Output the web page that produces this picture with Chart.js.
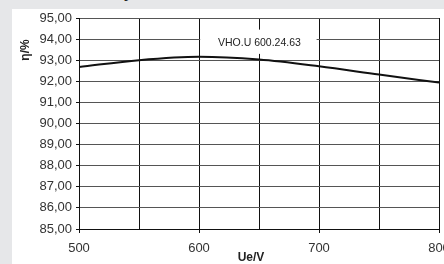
<!DOCTYPE html>
<html>
<head>
<meta charset="utf-8">
<script src="https://cdn.jsdelivr.net/npm/chart.js@4"></script>
<style>
  html, body { margin: 0; padding: 0; background: #e6e7e9; overflow: hidden; }
  #wrap { position: relative; width: 444px; height: 264px; }
  #panel { position: absolute; left: 12px; top: 9px; width: 440px; height: 260px; background: #fff; }
  #head { position: absolute; left: 57px; top: -16px; font: bold 16px "Liberation Sans", Arial, sans-serif; color: #222; white-space: nowrap; }
  canvas { position: absolute; left: 0; top: 0; }
</style>
</head>
<body>
<div id="wrap">
  <div id="head">Efficiency</div>
  <div id="panel"></div>
  <canvas id="myChart" width="444" height="264"></canvas>
</div>
<script>
const voltages = [500, 550, 600, 650, 700, 750, 800];
const efficiency = [92.68, 93.0, 93.16, 93.03, 92.71, 92.32, 91.94];
const seriesName = "VHO.U 600.24.63";
const xTitle = "Ue/V";
const yTitle = "η/%";

const fontFamily = '"Liberation Sans", Arial, sans-serif';

const overlay = {
  id: "overlay",
  afterDatasetsDraw(chart) {
    const ctx = chart.ctx;
    const x = chart.scales.x;
    const y = chart.scales.y;
    // legend box
    const left = x.getPixelForValue(601);
    const right = x.getPixelForValue(698);
    const top = y.getPixelForValue(94.45);
    const bottom = y.getPixelForValue(93.3);
    ctx.save();
    ctx.fillStyle = "#fff";
    ctx.fillRect(left, top, right - left, bottom - top);
    ctx.fillStyle = "#222";
    ctx.font = "10.5px " + fontFamily;
    ctx.textAlign = "center";
    ctx.textBaseline = "middle";
    ctx.fillText(seriesName, (left + right) / 2 + 1, (top + bottom) / 2 + 1);
    // axis titles
    ctx.font = "bold 12px " + fontFamily;
    ctx.fillText(xTitle, 251, 258);
    ctx.translate(26, 50);
    ctx.rotate(-Math.PI / 2);
    ctx.fillText(yTitle, 0, 0);
    ctx.restore();
  }
};

new Chart("myChart", {
  type: "line",
  data: {
    datasets: [
      {
        label: seriesName,
        data: voltages.map((v, i) => ({ x: v, y: efficiency[i] })),
        borderColor: "#111",
        borderWidth: 2,
        pointRadius: 0,
        fill: false,
        cubicInterpolationMode: "monotone",
      },
    ],
  },
  options: {
    responsive: false,
    animation: false,
    layout: { padding: { left: 0, right: 5, top: 18, bottom: 0 } },
    plugins: {
      legend: { display: false },
      tooltip: { enabled: false },
    },
    scales: {
      x: {
        type: "linear",
        min: 500,
        max: 800,
        ticks: {
          stepSize: 50,
          color: "#333",
          font: { size: 13, family: fontFamily },
          padding: 8,
          maxRotation: 0,
          callback: (v) => (v % 100 === 0 ? String(v) : ""),
        },
        grid: {
          color: "#111",
          lineWidth: 1,
          tickLength: 4,
          tickColor: (c) => (c.tick && c.tick.value % 100 === 0 ? "#111" : "rgba(0,0,0,0)"),
        },
        border: { color: "#111", width: 1 },
        afterFit(scale) {
          scale.height = 35;
          scale.paddingLeft = 0;
          scale.paddingRight = 0;
        },
      },
      y: {
        min: 85,
        max: 95,
        ticks: {
          stepSize: 1,
          color: "#333",
          font: { size: 13, family: fontFamily },
          padding: 4,
          callback: (v) => v.toFixed(2).replace(".", ","),
        },
        grid: {
          color: "#555",
          lineWidth: 1,
          tickLength: 3,
          tickColor: "#111",
        },
        border: { color: "#111", width: 1 },
        afterFit(scale) {
          scale.width = 79;
        },
      },
    },
  },
  plugins: [overlay],
});
</script>
</body>
</html>
